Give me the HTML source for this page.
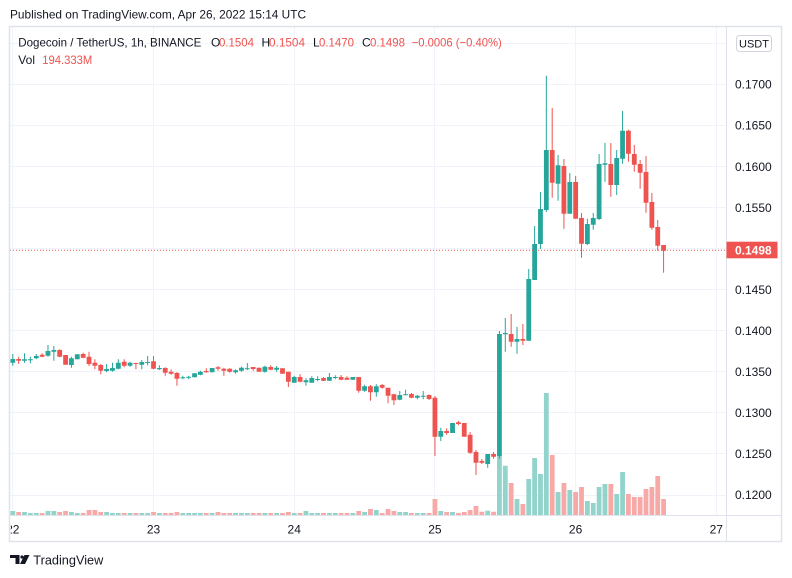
<!DOCTYPE html>
<html><head><meta charset="utf-8"><style>
html,body{margin:0;padding:0;background:#fff;}
svg{display:block;font-family:"Liberation Sans",Arial,sans-serif;}
</style></head><body>
<svg width="792" height="578" viewBox="0 0 792 578" xmlns="http://www.w3.org/2000/svg">
<defs>
<clipPath id="pane"><rect x="10" y="27" width="716.5" height="488"/></clipPath>
<clipPath id="taxis"><rect x="10.8" y="516" width="715.5" height="25"/></clipPath>
</defs>
<rect x="0" y="0" width="792" height="578" fill="#fff"/>
<text x="10" y="18.5" font-size="12" fill="#131722" textLength="296" lengthAdjust="spacingAndGlyphs">Published on TradingView.com, Apr 26, 2022 15:14 UTC</text>

<g stroke="#f0f3fa" stroke-width="1">
<line x1="10" x2="726" y1="43.5" y2="43.5"/>
<line x1="10" x2="726" y1="84.5" y2="84.5"/>
<line x1="10" x2="726" y1="125.5" y2="125.5"/>
<line x1="10" x2="726" y1="166.5" y2="166.5"/>
<line x1="10" x2="726" y1="207.5" y2="207.5"/>
<line x1="10" x2="726" y1="248.5" y2="248.5"/>
<line x1="10" x2="726" y1="289.5" y2="289.5"/>
<line x1="10" x2="726" y1="330.5" y2="330.5"/>
<line x1="10" x2="726" y1="371.5" y2="371.5"/>
<line x1="10" x2="726" y1="412.5" y2="412.5"/>
<line x1="10" x2="726" y1="453.5" y2="453.5"/>
<line x1="10" x2="726" y1="495.5" y2="495.5"/>
<line x1="12.5" x2="12.5" y1="27" y2="515"/>
<line x1="153.5" x2="153.5" y1="27" y2="515"/>
<line x1="294.5" x2="294.5" y1="27" y2="515"/>
<line x1="434.5" x2="434.5" y1="27" y2="515"/>
<line x1="575.5" x2="575.5" y1="27" y2="515"/>
<line x1="716.5" x2="716.5" y1="27" y2="515"/>
</g>

<g clip-path="url(#pane)">
<!-- volume green -->
<path fill="#92d3cc" d="M10.4 515V511h4.8V515zM22.13 515V512h4.8V515zM27.99 515V513h4.8V515zM33.85 515V513h4.8V515zM45.58 515V511h4.8V515zM51.44 515V511h4.8V515zM69.03 515V512h4.8V515zM74.89 515V513h4.8V515zM104.21 515V512h4.8V515zM110.07 515V513h4.8V515zM115.93 515V513h4.8V515zM127.66 515V513h4.8V515zM139.39 515V513h4.8V515zM145.25 515V513h4.8V515zM156.98 515V513h4.8V515zM180.43 515V513h4.8V515zM186.29 515V513h4.8V515zM192.15 515V513h4.8V515zM198.02 515V513h4.8V515zM209.74 515V513h4.8V515zM233.19 515V513h4.8V515zM239.06 515V513h4.8V515zM244.92 515V513h4.8V515zM262.51 515V513h4.8V515zM274.24 515V513h4.8V515zM291.82 515V513h4.8V515zM303.55 515V511h4.8V515zM309.41 515V513h4.8V515zM315.28 515V513h4.8V515zM327 515V513h4.8V515zM332.87 515V513h4.8V515zM350.45 515V513h4.8V515zM362.18 515V512h4.8V515zM373.91 515V510h4.8V515zM397.36 515V512h4.8V515zM403.22 515V512h4.8V515zM414.95 515V513h4.8V515zM420.81 515V513h4.8V515zM438.4 515V511h4.8V515zM450.13 515V512h4.8V515zM485.3 515V510.7h4.8V515zM497.03 515V456h4.8V515zM502.89 515V465.7h4.8V515zM514.62 515V499h4.8V515zM526.34 515V479h4.8V515zM532.21 515V458h4.8V515zM538.07 515V474h4.8V515zM543.93 515V393h4.8V515zM555.66 515V492h4.8V515zM567.39 515V490h4.8V515zM584.97 515V501h4.8V515zM590.84 515V503h4.8V515zM596.7 515V487h4.8V515zM602.56 515V484h4.8V515zM614.29 515V494h4.8V515zM620.15 515V472h4.8V515z"/>
<!-- volume red -->
<path fill="#f7a9a7" d="M16.26 515V512h4.8V515zM39.72 515V513h4.8V515zM57.3 515V512h4.8V515zM63.17 515V511h4.8V515zM80.76 515V513h4.8V515zM86.62 515V510h4.8V515zM92.48 515V510h4.8V515zM98.35 515V512h4.8V515zM121.8 515V513h4.8V515zM133.52 515V513h4.8V515zM151.11 515V512h4.8V515zM162.84 515V513h4.8V515zM168.7 515V513h4.8V515zM174.56 515V512h4.8V515zM203.88 515V513h4.8V515zM215.61 515V512h4.8V515zM221.47 515V513h4.8V515zM227.33 515V513h4.8V515zM250.78 515V513h4.8V515zM256.65 515V513h4.8V515zM268.37 515V513h4.8V515zM280.1 515V513h4.8V515zM285.96 515V512h4.8V515zM297.69 515V513h4.8V515zM321.14 515V513h4.8V515zM338.73 515V513h4.8V515zM344.59 515V513h4.8V515zM356.32 515V511h4.8V515zM368.04 515V509h4.8V515zM379.77 515V513h4.8V515zM385.63 515V509h4.8V515zM391.5 515V511h4.8V515zM409.08 515V513h4.8V515zM426.67 515V513h4.8V515zM432.54 515V499h4.8V515zM444.26 515V512h4.8V515zM455.99 515V513h4.8V515zM461.85 515V512h4.8V515zM467.71 515V510h4.8V515zM473.58 515V506h4.8V515zM479.44 515V511.7h4.8V515zM491.17 515V511.7h4.8V515zM508.76 515V483h4.8V515zM520.48 515V504h4.8V515zM549.8 515V455h4.8V515zM561.52 515V483h4.8V515zM573.25 515V492h4.8V515zM579.11 515V487h4.8V515zM608.43 515V484h4.8V515zM626.02 515V494h4.8V515zM631.88 515V497h4.8V515zM637.74 515V497h4.8V515zM643.6 515V489h4.8V515zM649.47 515V487h4.8V515zM655.33 515V476h4.8V515zM661.19 515V499h4.8V515z"/>

<!-- wicks green -->
<path stroke="#26a69a" stroke-width="1" fill="none" d="M12.8 354V365.7M24.53 353.3V362.7M30.39 356.7V363.3M36.25 354V359.3M47.98 345V356.7M53.84 346V360.7M71.43 356.7V367.7M77.29 354.3V359.3M106.61 364V372.3M112.47 362.7V371.7M118.33 359.3V369.3M130.06 361.7V366.7M141.79 360V369.3M147.65 356V365.3M159.38 365.3V370M182.83 375.7V379.3M188.69 375.7V379.3M194.55 373.3V377.3M200.42 370.7V375.3M212.14 368V372.3M235.59 369.3V373.7M241.46 366.7V371.7M247.32 363V370M264.91 365.7V372.7M276.64 366V371.7M294.22 375.7V382.7M305.95 378.3V385.7M311.81 376.3V382.7M317.68 376.3V381.3M329.4 373V381M335.27 375.3V379.3M352.85 377V379.7M364.58 384.7V391.7M376.31 384.3V396.7M399.76 391V400.3M405.62 389.7V395.3M417.35 395V399.3M423.21 391V399.3M440.8 427.7V441M452.53 423V433M487.7 454V467.7M499.43 331V458.7M505.29 318V351.7M517.02 327V353.7M528.74 269V340.7M534.61 226V280M540.47 192V249M546.33 75.7V212M558.06 155V200.7M569.79 173V213.7M587.37 218.7V245M593.24 213V229.7M599.1 154V220M604.96 143V181.7M616.69 150V195M622.55 111V163.7"/>
<!-- wicks red -->
<path stroke="#ef5350" stroke-width="1" fill="none" d="M18.66 356.7V364M42.12 353.3V357.3M59.7 349.3V357.3M65.57 355V364.7M83.16 352.7V358.3M89.02 351.7V366M94.88 359.3V369.3M100.75 364V374.3M124.2 359.3V367.3M135.92 362.7V369.3M153.51 356V369.3M165.24 367.3V375.7M171.1 369.3V374.7M176.96 372V385.7M206.28 368.3V372.7M218.01 366V370.7M223.87 367.7V375.7M229.73 368.3V372.7M253.18 367V370.7M259.05 367.7V371.7M270.77 365.3V370.3M282.5 368.3V373.7M288.36 371.7V387M300.09 374.3V382.3M323.54 377V381M341.13 375V380M346.99 376.3V379.7M358.72 377V392.7M370.44 385V400.7M382.17 384V388.7M388.03 387.7V403.3M393.9 393.7V405M411.48 393V398.3M429.07 394.3V400M434.94 396V456M446.66 428.3V434.7M458.39 420.7V425.3M464.25 423V436.7M470.11 432V453.7M475.98 450V475M481.84 459V464M493.57 452V458.7M511.16 314V346.7M522.88 324V345M552.2 108V197.7M563.92 159V228.7M575.65 176V218.7M581.51 213V257.7M610.83 143V196.7M628.42 129.7V161.7M634.28 145V171.7M640.14 160V188.7M646 156V212.7M651.87 193V229.7M657.73 220V250.7M663.59 245V272.7"/>

<!-- bodies green -->
<path fill="#26a69a" d="M10.4 359h4.8V362.7h-4.8zM22.13 359.3h4.8V360.7h-4.8zM27.99 359.3h4.8V360.3h-4.8zM33.85 356h4.8V358.3h-4.8zM45.58 351h4.8V355.7h-4.8zM51.44 350h4.8V351.7h-4.8zM69.03 358.3h4.8V365h-4.8zM74.89 354.3h4.8V359.3h-4.8zM104.21 369h4.8V371h-4.8zM110.07 368h4.8V370.7h-4.8zM115.93 362.7h4.8V368.7h-4.8zM127.66 362.7h4.8V365.7h-4.8zM139.39 362h4.8V364.7h-4.8zM145.25 362h4.8V363h-4.8zM156.98 368h4.8V369.3h-4.8zM180.43 377.3h4.8V378.3h-4.8zM186.29 376.7h4.8V377.7h-4.8zM192.15 373.3h4.8V377.3h-4.8zM198.02 371.7h4.8V374.7h-4.8zM209.74 368h4.8V372.3h-4.8zM233.19 370.3h4.8V372.3h-4.8zM239.06 367.7h4.8V370.7h-4.8zM244.92 368.3h4.8V369.3h-4.8zM262.51 366.7h4.8V371.7h-4.8zM274.24 367.7h4.8V369.7h-4.8zM291.82 377h4.8V382.7h-4.8zM303.55 380.3h4.8V382.3h-4.8zM309.41 378h4.8V382.7h-4.8zM315.28 379h4.8V380h-4.8zM327 377h4.8V380.7h-4.8zM332.87 377h4.8V378h-4.8zM350.45 377h4.8V379.7h-4.8zM362.18 386.3h4.8V390.7h-4.8zM373.91 386.3h4.8V392.3h-4.8zM397.36 395h4.8V399.7h-4.8zM403.22 394.3h4.8V395.3h-4.8zM414.95 395.7h4.8V397.7h-4.8zM420.81 395.7h4.8V396.7h-4.8zM438.4 431h4.8V436.7h-4.8zM450.13 423h4.8V433h-4.8zM485.3 454h4.8V464h-4.8zM497.03 334h4.8V456h-4.8zM502.89 333h4.8V334.3h-4.8zM514.62 339h4.8V341.7h-4.8zM526.34 279h4.8V340.7h-4.8zM532.21 244h4.8V280h-4.8zM538.07 209h4.8V244h-4.8zM543.93 150h4.8V210h-4.8zM555.66 165.3h4.8V183.7h-4.8zM567.39 182h4.8V213.7h-4.8zM584.97 224h4.8V244h-4.8zM590.84 218h4.8V224.7h-4.8zM596.7 164h4.8V219h-4.8zM602.56 163.3h4.8V164.7h-4.8zM614.29 158h4.8V185h-4.8zM620.15 130.7h4.8V158.7h-4.8z"/>
<!-- bodies red -->
<path fill="#ef5350" d="M16.26 359h4.8V360.7h-4.8zM39.72 354.7h4.8V356.7h-4.8zM57.3 350h4.8V356.7h-4.8zM63.17 355h4.8V364.7h-4.8zM80.76 354h4.8V357.7h-4.8zM86.62 356.7h4.8V364h-4.8zM92.48 362.7h4.8V365.7h-4.8zM98.35 365h4.8V370.7h-4.8zM121.8 361.7h4.8V365.7h-4.8zM133.52 363h4.8V364h-4.8zM151.11 361.3h4.8V368.7h-4.8zM162.84 368h4.8V372.7h-4.8zM168.7 371.7h4.8V373.7h-4.8zM174.56 373h4.8V378.7h-4.8zM203.88 371h4.8V372.3h-4.8zM215.61 367.3h4.8V368.7h-4.8zM221.47 368.7h4.8V370.7h-4.8zM227.33 368.7h4.8V371.7h-4.8zM250.78 367h4.8V369h-4.8zM256.65 367.7h4.8V371.7h-4.8zM268.37 367h4.8V369.7h-4.8zM280.1 368.3h4.8V373.7h-4.8zM285.96 371.7h4.8V381.7h-4.8zM297.69 377h4.8V381.7h-4.8zM321.14 378h4.8V380.7h-4.8zM338.73 377h4.8V379.7h-4.8zM344.59 377.7h4.8V379.7h-4.8zM356.32 377h4.8V390.7h-4.8zM368.04 386.3h4.8V392.3h-4.8zM379.77 385h4.8V387.7h-4.8zM385.63 387.7h4.8V395.7h-4.8zM391.5 394.3h4.8V400.3h-4.8zM409.08 394h4.8V397.7h-4.8zM426.67 395h4.8V399h-4.8zM432.54 397.7h4.8V436.7h-4.8zM444.26 431h4.8V433h-4.8zM455.99 422.3h4.8V424h-4.8zM461.85 423h4.8V436.7h-4.8zM467.71 434.7h4.8V452.7h-4.8zM473.58 452h4.8V462.7h-4.8zM479.44 461h4.8V462.7h-4.8zM491.17 454h4.8V456.7h-4.8zM508.76 334h4.8V341.7h-4.8zM520.48 339h4.8V340.7h-4.8zM549.8 150h4.8V182.7h-4.8zM561.52 166h4.8V213.7h-4.8zM573.25 182h4.8V218.7h-4.8zM579.11 218h4.8V243.7h-4.8zM608.43 164h4.8V185h-4.8zM626.02 130.7h4.8V153.7h-4.8zM631.88 154h4.8V164.7h-4.8zM637.74 164h4.8V172.7h-4.8zM643.6 172h4.8V202.7h-4.8zM649.47 202h4.8V227.7h-4.8zM655.33 227h4.8V245.7h-4.8zM661.19 245h4.8V250.7h-4.8z"/>
</g>
<line x1="10" x2="726" y1="250.3" y2="250.3" stroke="#ef5350" stroke-width="1" stroke-dasharray="1 2"/>

<!-- legend -->
<g font-size="12">
<text x="18.3" y="46.5" fill="#131722" textLength="183" lengthAdjust="spacingAndGlyphs">Dogecoin / TetherUS, 1h, BINANCE</text>
<text x="211" y="46.5" fill="#131722">O</text>
<text x="219" y="46.5" fill="#ef5350" textLength="35" lengthAdjust="spacingAndGlyphs">0.1504</text>
<text x="261.5" y="46.5" fill="#131722">H</text>
<text x="269" y="46.5" fill="#ef5350" textLength="36" lengthAdjust="spacingAndGlyphs">0.1504</text>
<text x="313" y="46.5" fill="#131722">L</text>
<text x="319" y="46.5" fill="#ef5350" textLength="35" lengthAdjust="spacingAndGlyphs">0.1470</text>
<text x="362" y="46.5" fill="#131722">C</text>
<text x="370" y="46.5" fill="#ef5350" textLength="35" lengthAdjust="spacingAndGlyphs">0.1498</text>
<text x="411.7" y="46.5" fill="#ef5350" textLength="90" lengthAdjust="spacingAndGlyphs">−0.0006 (−0.40%)</text>
<text x="18.3" y="64" fill="#131722">Vol</text>
<text x="42.3" y="64" fill="#ef5350" textLength="50" lengthAdjust="spacingAndGlyphs">194.333M</text>
</g>

<!-- frame -->
<line x1="726.5" x2="726.5" y1="26" y2="542" stroke="#e0e3eb" stroke-width="1"/>
<line x1="9" x2="782" y1="515.5" y2="515.5" stroke="#e0e3eb" stroke-width="1"/>
<rect x="9.5" y="26.5" width="772" height="515" fill="none" stroke="#e0e3eb" stroke-width="1.5"/>

<!-- price axis -->
<rect x="736.5" y="35.5" width="35" height="16" rx="3" fill="#fff" stroke="#d1d4dc"/>
<text x="754" y="47.5" font-size="11" fill="#131722" text-anchor="middle">USDT</text>
<g font-size="12" fill="#131722" text-anchor="end">
<text x="771.7" y="88.7">0.1700</text>
<text x="771.7" y="129.7">0.1650</text>
<text x="771.7" y="170.8">0.1600</text>
<text x="771.7" y="211.8">0.1550</text>
<text x="771.7" y="293.9">0.1450</text>
<text x="771.7" y="335">0.1400</text>
<text x="771.7" y="376">0.1350</text>
<text x="771.7" y="417.1">0.1300</text>
<text x="771.7" y="458.1">0.1250</text>
<text x="771.7" y="499.2">0.1200</text>
</g>
<rect x="726.5" y="241.7" width="51" height="16.6" fill="#ef5350"/>
<text x="771.7" y="254.5" font-size="12" font-weight="bold" fill="#fff" text-anchor="end">0.1498</text>

<!-- time axis -->
<g font-size="12" fill="#131722" text-anchor="middle" clip-path="url(#taxis)">
<text x="12.8" y="533.5">22</text>
<text x="153.5" y="533.5">23</text>
<text x="294.2" y="533.5">24</text>
<text x="434.9" y="533.5">25</text>
<text x="575.6" y="533.5">26</text>
<text x="716.3" y="533.5">27</text>
</g>

<!-- logo -->
<g fill="#131722">
<path d="M10 555 H19.5 V564 H15.5 V558 H10 Z"/>
<circle cx="22" cy="557" r="1.6"/>
<path d="M24.5 555 H29.5 L25 564 H20 Z"/>
</g>
<text x="33.3" y="564.5" font-size="13" fill="#131722" textLength="70" lengthAdjust="spacingAndGlyphs">TradingView</text>
</svg>
</body></html>
